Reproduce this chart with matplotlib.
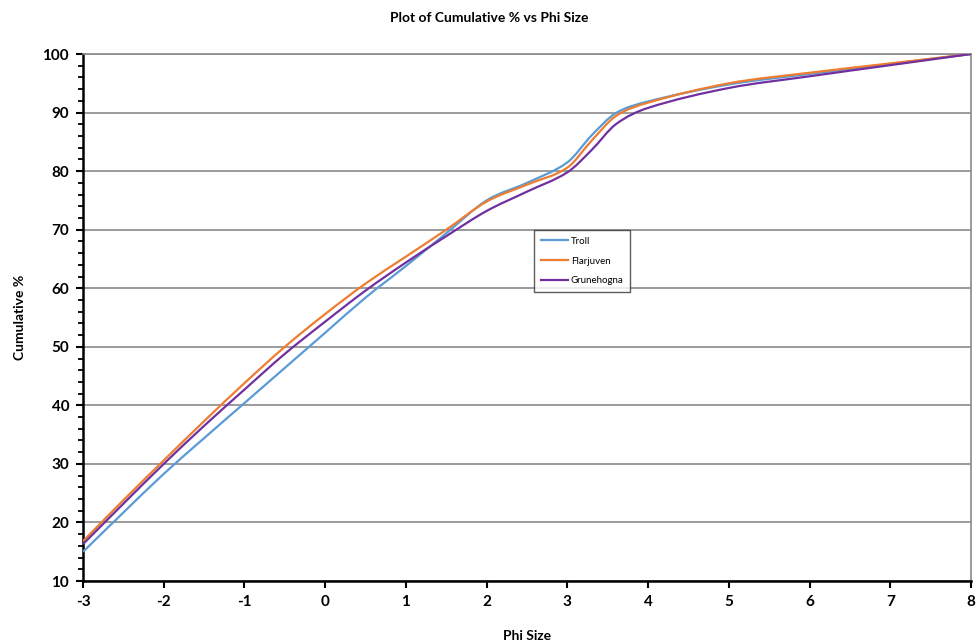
import numpy as np
import matplotlib.pyplot as plt
from matplotlib.path import Path
from matplotlib.patches import PathPatch
from matplotlib.lines import Line2D
from matplotlib.ticker import MultipleLocator

plt.rcParams['font.family'] = ['Lato', 'DejaVu Sans']
plt.rcParams['axes.unicode_minus'] = False

# phi sizes
phi = [-3, -2.5, -2, -1.5, -1, -0.5, 0, 0.5, 1, 1.5, 2, 2.5, 3, 3.3, 3.6, 4, 5, 6, 7, 8]

# cumulative % for each site
troll = [15.0, 21.7, 28.3, 34.4, 40.4, 46.4, 52.4, 58.4, 63.8, 69.4, 75.0, 78.0, 81.5, 86.1, 89.9,
         91.9, 94.8, 96.6, 98.3, 100]
flarjuven = [16.8, 23.8, 30.6, 37.3, 43.8, 50.0, 55.6, 60.8, 65.4, 70.0, 74.8, 77.7, 80.6, 85.2, 89.4,
             91.7, 95.0, 96.8, 98.4, 100]
grunehogna = [16.3, 23.2, 30.0, 36.5, 42.7, 48.8, 54.3, 59.6, 64.4, 68.9, 73.2, 76.5, 79.8, 83.6, 88.0,
              90.8, 94.2, 96.2, 98.1, 100]

series = [("Troll", troll, "#5B9BD5"),
          ("Flarjuven", flarjuven, "#ED7D31"),
          ("Grunehogna", grunehogna, "#7030A0")]


def smooth_path(x, y):
    """bezier path through the points (like excel's smoothed line)"""
    x = np.asarray(x, float)
    y = np.asarray(y, float)
    n = len(x)
    m = np.zeros(n)
    m[0] = (y[1] - y[0]) / (x[1] - x[0])
    m[-1] = (y[-1] - y[-2]) / (x[-1] - x[-2])
    for i in range(1, n - 1):
        m[i] = (y[i + 1] - y[i - 1]) / (x[i + 1] - x[i - 1])
    verts = [(x[0], y[0])]
    codes = [Path.MOVETO]
    for i in range(n - 1):
        h = x[i + 1] - x[i]
        verts.append((x[i] + h / 3, y[i] + m[i] * h / 3))
        verts.append((x[i + 1] - h / 3, y[i + 1] - m[i + 1] * h / 3))
        verts.append((x[i + 1], y[i + 1]))
        codes += [Path.CURVE4] * 3
    return Path(verts, codes)


fig = plt.figure(figsize=(9.78, 6.44), dpi=100)
ax = fig.add_axes([0.0849, 0.0978, 0.9079, 0.8183])

handles = []
for name, vals, col in series:
    patch = PathPatch(smooth_path(phi, vals), fill=False, edgecolor=col, lw=1.6, zorder=3)
    ax.add_patch(patch)
    handles.append(Line2D([], [], color=col, lw=1.6, label=name))

ax.set_xlim(-3, 8)
ax.set_ylim(10, 100)
ax.xaxis.set_major_locator(MultipleLocator(1))
ax.yaxis.set_major_locator(MultipleLocator(10))
ax.yaxis.set_minor_locator(MultipleLocator(2))

ax.grid(axis='y', which='major', color='#8a8a8a', lw=1.2)
ax.set_axisbelow(True)

for s in ['left', 'bottom']:
    ax.spines[s].set_color('black')
    ax.spines[s].set_linewidth(1.8)
for s in ['top', 'right']:
    ax.spines[s].set_color('#8a8a8a')
    ax.spines[s].set_linewidth(1.2)

ax.tick_params(axis='both', which='major', direction='out', length=5, width=1.5, labelsize=11, pad=5)
ax.tick_params(axis='y', which='minor', direction='out', length=3.5, width=1.3)
for lab in ax.get_xticklabels() + ax.get_yticklabels():
    lab.set_fontweight('bold')

ax.set_xlabel("Phi Size", fontsize=10, fontweight='bold', labelpad=15)
ax.set_ylabel("Cumulative %", fontsize=10, fontweight='bold', labelpad=12)
fig.text(0.5, 0.972, "Plot of Cumulative % vs Phi Size", ha='center', va='center',
         fontsize=10, fontweight='bold')

leg = ax.legend(handles=handles, loc='upper left', bbox_to_anchor=(534 / 978, 1 - 230 / 644),
                bbox_transform=fig.transFigure, fontsize=7, frameon=True, fancybox=False,
                handlelength=2.8, handletextpad=0.3, labelspacing=1.1, borderpad=0.7,
                borderaxespad=0)
leg.get_frame().set_edgecolor('#333333')
leg.get_frame().set_linewidth(1.0)

fig.savefig("out.png", dpi=100)
